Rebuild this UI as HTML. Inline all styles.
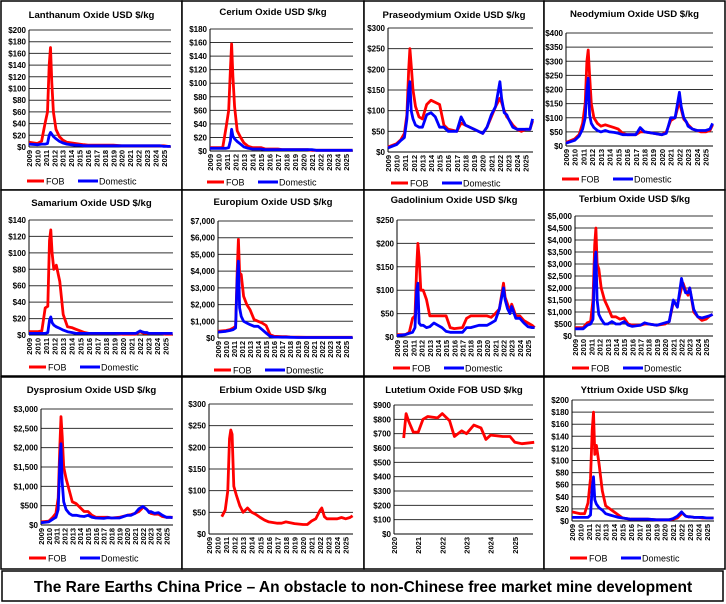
<!DOCTYPE html>
<html><head><meta charset="utf-8"><style>
html,body{margin:0;padding:0;background:#fff;}
svg{display:block;font-family:"Liberation Sans",Arial,sans-serif;}
</style></head><body>
<svg id="root" width="726" height="604" viewBox="0 0 726 604"></svg>
<script>
const years=[2009,2010,2010.5,2010.9,2011.2,2011.4,2011.55,2011.7,2011.9,2012.2,2012.6,2013,2013.5,2014,2014.5,2015,2015.5,2016,2017,2017.5,2018,2019,2020,2020.5,2021,2021.5,2022,2022.2,2022.5,2022.8,2023,2023.5,2024,2024.5,2025,2025.5,2025.8];
const xTickYears=[2009,2010,2011,2012,2013,2014,2015,2016,2017,2018,2019,2020,2021,2022,2023,2024,2025];
const laFob=[8,6,10,40,60,140,170,110,60,30,18,12,8,7,6,5,4,3,3,3,3,3,2,2,2,2,2,2,2,2,2,2,2,2,2,1,1];
const laDom=[5,4,5,5,6,20,25,22,18,14,10,7,5,4,3,3,2,2,2,2,2,2,2,2,2,2,2,2,2,2,2,2,2,2,1,1,1];
const ceFob=[5,5,5,35,60,120,158,110,65,30,20,12,7,5,5,5,3,3,3,2,2,2,2,2,1,1,1,1,1,1,1,1,1,1,1,1,1];
const ceDom=[4,4,4,4,5,15,32,22,18,14,10,6,4,3,3,3,2,2,2,2,2,2,2,2,2,1,1,1,1,1,1,1,1,1,1,1,1];
const prFob=[12,20,30,45,90,200,250,210,150,110,85,80,115,125,120,115,65,55,50,70,65,55,45,60,85,110,130,120,100,85,80,65,55,50,55,55,75];
const prDom=[10,18,28,35,80,150,170,100,80,65,60,60,90,95,85,60,60,50,50,85,65,55,45,60,90,110,170,130,95,90,80,60,55,55,55,55,80];
const ndFob=[12,25,40,80,150,300,340,250,150,100,80,70,75,70,65,60,45,40,40,50,50,45,40,50,90,100,160,130,95,85,75,60,55,50,50,55,75];
const ndDom=[10,20,35,60,100,200,240,110,80,65,55,50,55,50,48,45,40,40,40,65,50,45,40,45,100,100,190,140,100,85,70,60,55,55,55,60,80];
const smFob=[4,4,5,33,35,115,128,100,80,85,65,25,10,9,7,5,3,2,2,2,2,2,1,1,1,1,4,3,2,2,2,2,2,2,1,1,1];
const smDom=[2,2,2,2,3,18,22,15,12,10,8,6,4,3,2,2,2,2,2,2,2,2,2,2,2,2,5,4,3,3,2,2,2,2,2,2,2];
const euFob=[400,450,500,600,700,4000,5900,3900,3800,2500,2000,1700,1100,1000,900,750,200,100,80,80,60,50,40,40,40,40,40,40,40,40,40,40,40,40,40,40,40];
const euDom=[350,400,450,500,600,3500,4600,1800,1300,1000,900,800,700,700,500,300,100,60,50,50,40,30,30,30,30,30,30,30,30,30,30,30,30,30,30,30,30];
const gdFob=[5,5,10,40,45,150,200,170,100,100,80,45,45,45,45,45,20,18,20,40,45,45,45,42,50,60,115,85,70,55,70,45,45,35,30,25,20];
const gdDom=[3,5,8,10,20,100,115,30,25,25,20,22,30,25,20,12,10,10,10,20,20,25,25,30,35,60,105,80,60,50,65,40,40,30,22,20,20];
const tbFob=[350,350,550,600,1500,3800,4500,3000,2800,2000,1500,1200,800,800,700,750,500,450,450,500,500,450,500,600,1400,1300,2000,2200,1900,1700,2000,1000,800,650,700,850,900];
const tbDom=[300,300,450,500,700,3000,3500,1500,900,700,500,500,600,500,500,600,450,400,450,550,500,450,550,600,1500,1200,2400,2100,1800,1800,2000,1100,800,750,800,850,900];
const dyFob=[80,100,200,300,700,2000,2800,2300,1500,1200,900,600,550,450,350,350,250,200,200,200,180,200,250,270,300,350,450,450,400,350,300,280,280,220,200,200,200];
const dyDom=[60,80,150,200,400,1600,2100,1100,600,400,300,250,250,230,220,250,200,180,170,190,180,180,250,250,300,420,480,450,400,320,350,300,320,250,200,200,190];
const erFob=[null,null,40,55,100,220,240,230,110,90,65,50,60,50,45,38,32,28,25,25,28,24,22,22,30,35,55,60,40,35,35,35,35,38,35,38,42];
const yFob=[15,12,12,30,70,150,180,110,125,95,50,25,20,15,10,5,4,3,3,3,3,2,2,2,3,5,12,12,8,7,7,6,6,5,5,5,5];
const yDom=[6,6,6,6,10,55,73,35,28,22,18,12,10,8,6,5,4,3,3,3,3,2,2,2,4,8,15,12,8,7,7,6,6,6,5,5,5];
const luYears=[2020.4,2020.5,2020.6,2020.8,2021,2021.2,2021.4,2021.8,2022,2022.3,2022.5,2022.8,2023,2023.3,2023.6,2023.8,2024,2024.5,2024.8,2025,2025.3,2025.8];
const luFob=[670,840,790,710,710,800,820,810,840,790,680,720,700,760,740,660,690,680,680,640,630,640];
const luTickYears=[2020,2021,2022,2023,2024,2025];

const NS='http://www.w3.org/2000/svg';
const root=document.getElementById('root');
function mk(tag,attrs,parent){const e=document.createElementNS(NS,tag);for(const k in attrs)e.setAttribute(k,attrs[k]);(parent||root).appendChild(e);return e;}
function fmt(v){return '$'+v.toLocaleString('en-US');}

const panels=[
 {key:'lanthanum',box:[1,1,181,189],title:'Lanthanum Oxide USD $/kg',ty:18,pl:29,pr:171,pt:30,pb:147,ymax:200,step:20,x0:2009,x1:2025.85,xt:xTickYears,t:years,fob:laFob,dom:laDom,ly:181,lx:27},
 {key:'cerium',box:[182,1,182,189],title:'Cerium Oxide USD $/kg',ty:15,pl:210,pr:353,pt:29,pb:151,ymax:180,step:20,x0:2009,x1:2025.85,xt:xTickYears,t:years,fob:ceFob,dom:ceDom,ly:182,lx:207},
 {key:'praseodymium',box:[364,1,180,189],title:'Praseodymium Oxide USD $/kg',ty:18,pl:388,pr:533,pt:28,pb:152,ymax:300,step:50,x0:2009,x1:2025.85,xt:xTickYears,t:years,fob:prFob,dom:prDom,ly:183,lx:391},
 {key:'neodymium',box:[544,1,181,189],title:'Neodymium Oxide USD $/kg',ty:17,pl:566,pr:713,pt:33,pb:146,ymax:400,step:50,x0:2009,x1:2025.85,xt:xTickYears,t:years,fob:ndFob,dom:ndDom,ly:179,lx:562},
 {key:'samarium',box:[1,190,181,186],title:'Samarium Oxide USD $/kg',ty:206,pl:29,pr:173,pt:220,pb:335,ymax:140,step:20,x0:2009,x1:2025.85,xt:xTickYears,t:years,fob:smFob,dom:smDom,ly:367,lx:29},
 {key:'europium',box:[182,190,182,186],title:'Europium Oxide USD $/kg',ty:205,pl:218,pr:353,pt:221,pb:338,ymax:7000,step:1000,x0:2009,x1:2025.85,xt:xTickYears,t:years,fob:euFob,dom:euDom,ly:370,lx:214},
 {key:'gadolinium',box:[364,190,180,186],title:'Gadolinium Oxide USD $/kg',ty:203,pl:397,pr:535,pt:220,pb:337,ymax:250,step:50,x0:2009,x1:2025.85,xt:xTickYears,t:years,fob:gdFob,dom:gdDom,ly:368,lx:393},
 {key:'terbium',box:[544,190,181,186],title:'Terbium Oxide USD $/kg',ty:202,pl:575,pr:713,pt:216,pb:336,ymax:5000,step:500,x0:2009,x1:2025.85,xt:xTickYears,t:years,fob:tbFob,dom:tbDom,ly:368,lx:572},
 {key:'dysprosium',box:[1,377,181,192],title:'Dysprosium Oxide USD $/kg',ty:393,pl:41,pr:173,pt:409,pb:525,ymax:3000,step:500,x0:2009,x1:2025.85,xt:xTickYears,t:years,fob:dyFob,dom:dyDom,ly:558,lx:29},
 {key:'erbium',box:[182,377,182,192],title:'Erbium Oxide USD $/kg',ty:393,pl:209,pr:353,pt:404,pb:534,ymax:300,step:50,x0:2009,x1:2025.85,xt:xTickYears,t:years,fob:erFob,dom:null,ly:null},
 {key:'lutetium',box:[364,377,180,192],title:'Lutetium Oxide FOB USD $/kg',ty:393,pl:394,pr:533,pt:405,pb:534,ymax:900,step:100,x0:2020,x1:2025.75,xt:luTickYears,t:luYears,fob:luFob,dom:null,ly:null},
 {key:'yttrium',box:[544,377,181,192],title:'Yttrium Oxide USD $/kg',ty:393,pl:572,pr:714,pt:400,pb:521,ymax:200,step:20,x0:2009,x1:2025.85,xt:xTickYears,t:years,fob:yFob,dom:yDom,ly:558,lx:570}
];

panels.forEach(p=>{
  const g=mk('g',{});
  
  
  const [bx,by,bw,bh]=p.box;
  const box=mk('rect',{x:bx,y:by,width:bw,height:bh,fill:'#fff',stroke:'#000','stroke-width':1.5},g);
  
  
  const t=mk('text',{x:bx+bw/2,y:p.ty,'text-anchor':'middle','font-size':'9.6','font-weight':'bold',fill:'#000'},g);
  t.textContent=p.title;
  
  
  const xs=v=>p.pl+(v-p.x0)/(p.x1-p.x0)*(p.pr-p.pl);
  const ys=v=>p.pb-v/p.ymax*(p.pb-p.pt);
  for(let v=0;v<=p.ymax+1e-9;v+=p.step){
    const y=ys(v);
    const gl=mk('line',{x1:p.pl,x2:p.pr,y1:y,y2:y,stroke:v===0?'#000':'#333','stroke-width':1},g);
    
    
    const tl=mk('text',{x:p.pl-3,y:y+3,'text-anchor':'end','font-size':'8','font-weight':'bold',fill:'#000'},g);
    tl.textContent=fmt(v);
    
    
  }
  const ax=mk('line',{x1:p.pl,x2:p.pl,y1:p.pt,y2:p.pb,stroke:'#000','stroke-width':1},g);
  
  
  p.xt.forEach(yr=>{
    const x=xs(yr);
    const xl=mk('text',{x:0,y:0,transform:`translate(${x+3},${p.pb+3}) rotate(-90)`,'text-anchor':'end','font-size':'7.5','font-weight':'bold',fill:'#000'},g);
    xl.textContent=String(yr);
    
    
  });
  function drawLine(vals,color,nm){
    let d='';let pen=false;
    vals.forEach((v,i)=>{
      if(v===null){pen=false;return;}
      d+=(pen?'L':'M')+xs(p.t[i]).toFixed(1)+','+ys(v).toFixed(1);pen=true;
    });
    const pth=mk('path',{d:d,fill:'none',stroke:color,'stroke-width':2.8,'stroke-linejoin':'round'},g);
    
    
  }
  drawLine(p.fob,'#ff0000','fob');
  if(p.dom) drawLine(p.dom,'#0000ff','domestic');
  if(p.ly){
    const lg=mk('g',{},g);
    
    
    mk('line',{x1:p.lx,x2:p.lx+17,y1:p.ly,y2:p.ly,stroke:'#ff0000','stroke-width':3},lg);
    const f=mk('text',{x:p.lx+19,y:p.ly+3.5,'font-size':'9',fill:'#000'},lg);
    f.textContent='FOB';
    
    
    mk('line',{x1:p.lx+51,x2:p.lx+71,y1:p.ly,y2:p.ly,stroke:'#0000ff','stroke-width':3},lg);
    const dm=mk('text',{x:p.lx+72,y:p.ly+3.5,'font-size':'9',fill:'#000'},lg);
    dm.textContent='Domestic';
    
    
  }
});
const fb=mk('rect',{x:2,y:571,width:721,height:30,fill:'#fff',stroke:'#000','stroke-width':1.5});


const ft=mk('text',{x:363,y:592,'text-anchor':'middle','font-size':'15.5','font-weight':'bold',fill:'#000'});
ft.textContent='The Rare Earths China Price \u2013 An obstacle to non-Chinese free market mine development';


</script>
</body></html>
